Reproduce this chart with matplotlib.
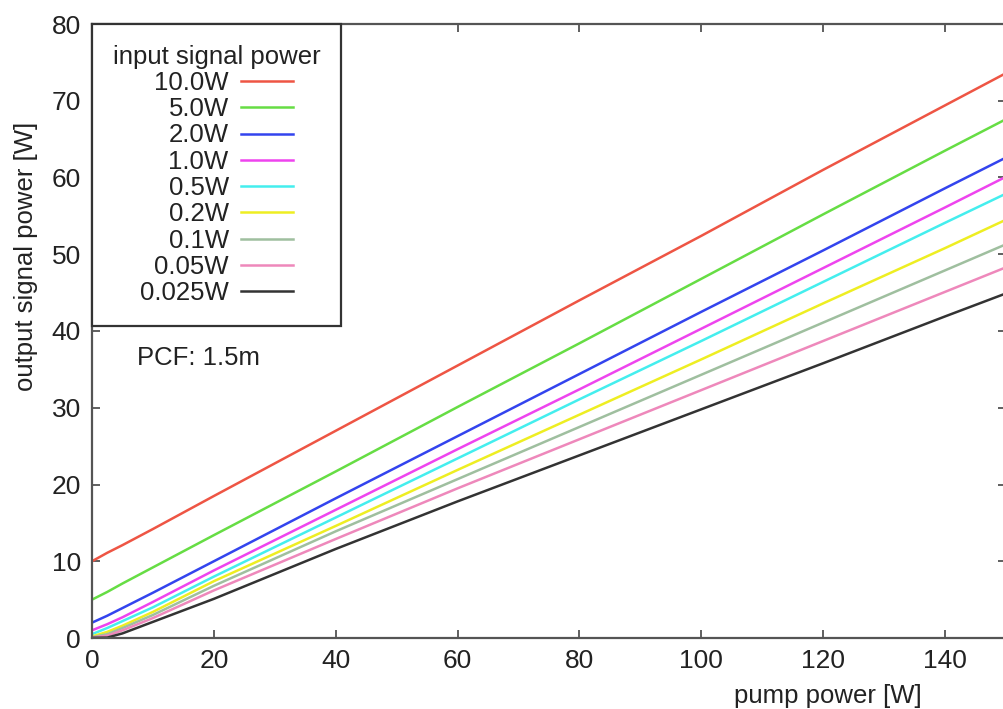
import matplotlib
matplotlib.use("Agg")
import matplotlib.pyplot as plt
from matplotlib.ticker import MultipleLocator

plt.rcParams['font.family'] = ['Liberation Sans', 'DejaVu Sans']

pump = [0, 2.5, 5, 10, 20, 40, 60, 80, 100, 120, 140, 150]
labels = ["10.0W", "5.0W", "2.0W", "1.0W", "0.5W", "0.2W", "0.1W", "0.05W", "0.025W"]
out_10 = [10.0, 11.1, 12.1, 14.2, 18.5, 27.0, 35.5, 44.0, 52.4, 61.0, 69.4, 73.6]
out_5 = [5.0, 6.0, 7.1, 9.2, 13.4, 21.7, 30.1, 38.4, 46.8, 55.2, 63.5, 67.6]
out_2 = [2.0, 2.9, 3.9, 5.9, 10.0, 18.2, 26.3, 34.4, 42.5, 50.5, 58.6, 62.6]
out_1 = [1.0, 1.8, 2.7, 4.7, 8.8, 16.7, 24.6, 32.4, 40.3, 48.2, 56.1, 60.1]
out_05 = [0.5, 1.3, 2.2, 4.0, 8.0, 15.7, 23.4, 31.1, 38.7, 46.4, 54.1, 57.9]
out_02 = [0.2, 0.8, 1.6, 3.4, 7.4, 14.6, 21.9, 29.1, 36.3, 43.6, 50.8, 54.5]
out_01 = [0.1, 0.5, 1.3, 3.0, 6.8, 13.9, 20.7, 27.5, 34.3, 41.1, 47.9, 51.3]
out_005 = [0.05, 0.3, 1.0, 2.6, 6.2, 12.9, 19.5, 25.9, 32.3, 38.7, 45.1, 48.3]
out_0025 = [0.025, 0.05, 0.6, 2.1, 5.1, 11.6, 17.8, 23.8, 29.8, 35.8, 41.9, 44.9]
series = [out_10, out_5, out_2, out_1, out_05, out_02, out_01, out_005, out_0025]
colors = ['#ee5544', '#66dd44', '#3344ee', '#ee44ee', '#44eeee', '#eeee22',
          '#9fbf9f', '#ee88bb', '#333333']

FS = 18.5

fig = plt.figure(figsize=(10.04, 7.09), dpi=100)
ax = fig.add_axes([92/1004, 71/709, (1006-92)/1004, (638-24)/709])

for ys, c, lab in zip(series, colors, labels):
    ax.plot(pump, ys, color=c, lw=1.8, label=lab)

ax.set_xlim(0, 150)
ax.set_ylim(0, 80)
ax.xaxis.set_major_locator(MultipleLocator(20))
ax.yaxis.set_major_locator(MultipleLocator(10))
ax.tick_params(direction='in', length=6, width=1.2, color='#444444',
               top=True, right=True, labelsize=19, labelcolor='#222222')
ax.tick_params(axis='x', pad=8)
ax.tick_params(axis='y', pad=8)
for s in ax.spines.values():
    s.set_color('#555555')
    s.set_linewidth(1.6)

ax.set_xlabel('pump power [W]', fontsize=FS, color='#222222')
ax.xaxis.set_label_coords((828-92)/914, (638-684)/614)
ax.set_ylabel('output signal power [W]', fontsize=FS, color='#222222')
ax.yaxis.set_label_coords((38-92)/914, (638-256)/614)

leg = ax.legend(loc='upper left', bbox_to_anchor=(0, 1), borderaxespad=0,
                markerfirst=False, title='input signal power',
                fontsize=FS, title_fontsize=FS, labelspacing=0.09,
                handlelength=2.0, handletextpad=0.5, borderpad=0.8,
                fancybox=False, edgecolor='#333333', framealpha=1)
leg.get_frame().set_linewidth(1.6)
for t in leg.get_texts():
    t.set_color('#222222')
leg.get_title().set_color('#222222')

ax.text((137-92)/914, (638-365)/614, 'PCF: 1.5m', fontsize=FS, color='#222222',
        transform=ax.transAxes, va='baseline', ha='left')
plt.savefig('out.png', dpi=100)
